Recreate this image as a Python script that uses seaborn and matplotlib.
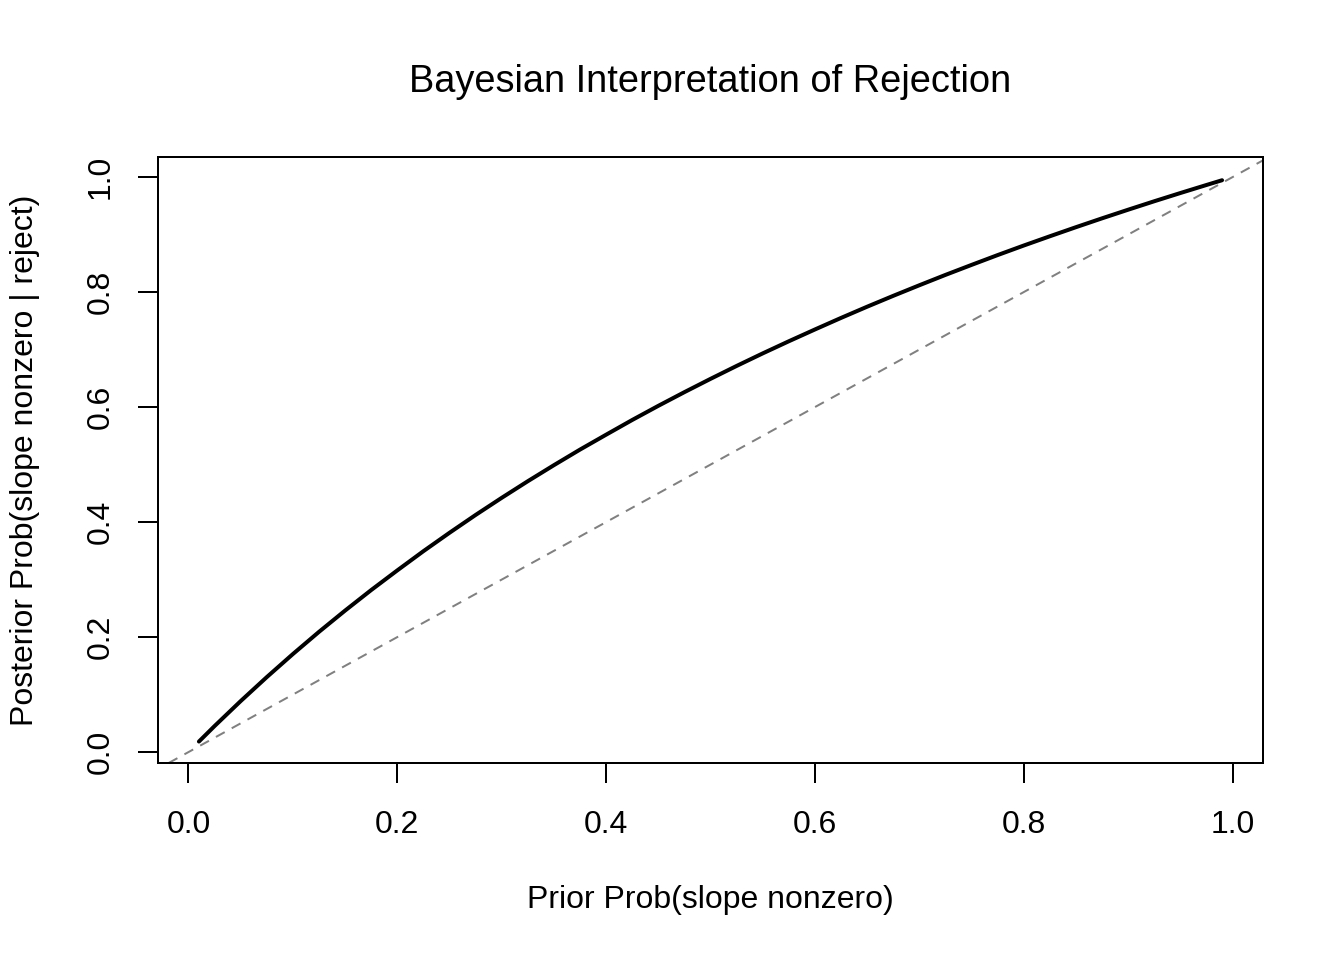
import numpy as np
import pandas as pd
import matplotlib
matplotlib.use("Agg")
import matplotlib.pyplot as plt
import seaborn as sns

prior = [0.01, 0.025, 0.05, 0.075, 0.10, 0.125, 0.15, 0.175, 0.20, 0.225,
         0.25, 0.275, 0.30, 0.325, 0.35, 0.375, 0.40, 0.425, 0.45, 0.475,
         0.50, 0.525, 0.55, 0.575, 0.60, 0.625, 0.65, 0.675, 0.70, 0.725,
         0.75, 0.775, 0.80, 0.825, 0.85, 0.875, 0.90, 0.925, 0.95, 0.975, 0.99]
posterior = [0.0183, 0.0453, 0.0887, 0.1304, 0.1705, 0.2091, 0.2461, 0.2818, 0.3160, 0.3494,
             0.3814, 0.4124, 0.4422, 0.4711, 0.4990, 0.5261, 0.5520, 0.5776, 0.6022, 0.6260,
             0.6491, 0.6716, 0.6934, 0.7145, 0.7350, 0.7551, 0.7746, 0.7935, 0.8119, 0.8299,
             0.8473, 0.8644, 0.8810, 0.8971, 0.9129, 0.9283, 0.9433, 0.9580, 0.9723, 0.9863, 0.9946]
xticks = [0.0, 0.2, 0.4, 0.6, 0.8, 1.0]
yticks = [0.0, 0.2, 0.4, 0.6, 0.8, 1.0]

title = "Bayesian Interpretation of Rejection"
xlabel = "Prior Prob(slope nonzero)"
ylabel = "Posterior Prob(slope nonzero | reject)"

sns.set_style("ticks")
plt.rcParams['font.family'] = ['Liberation Sans', 'DejaVu Sans']
plt.rcParams['text.color'] = 'black'

df = pd.DataFrame({"prior": prior, "posterior": posterior})

fig = plt.figure(figsize=(1344 / 144, 960 / 144), dpi=144)
ax = fig.add_axes([158 / 1344, 1 - 763 / 960, (1263 - 158) / 1344, (763 - 157) / 960])

ax.axline((0, 0), slope=1, color="#808080", lw=1.0, linestyle=(0, (5, 4)))
sns.lineplot(data=df, x="prior", y="posterior", ax=ax, color="black", lw=2.0)

ax.set_xlim(-0.0292, 1.0292)
ax.set_ylim(-0.019, 1.035)
ax.set_xticks(xticks)
ax.set_yticks(yticks)
ax.set_xticklabels([f"{v:.1f}" for v in xticks])
ax.set_yticklabels([f"{v:.1f}" for v in yticks], rotation=90, va="center")
ax.tick_params(axis="both", direction="out", length=10, width=1.0, color="black",
               labelsize=16, labelcolor="black")
ax.tick_params(axis="x", pad=13.5)
ax.tick_params(axis="y", pad=11)
for s in ax.spines.values():
    s.set_visible(True)
    s.set_linewidth(1.0)
    s.set_color("black")

ax.set_xlabel(xlabel, fontsize=16, color="black")
ax.set_ylabel(ylabel, fontsize=16, color="black")
ax.xaxis.label.set_va("center")
ax.yaxis.label.set_va("center")
ax.xaxis.set_label_coords(0.5, (763 - 900) / 606)
ax.yaxis.set_label_coords((25 - 158) / 1105, 0.5)
fig.text((158 + 1263) / 2 / 1344, 1 - 82 / 960, title, fontsize=19,
         ha="center", va="center", color="black")

fig.savefig("out.png", dpi=144, facecolor="white")
